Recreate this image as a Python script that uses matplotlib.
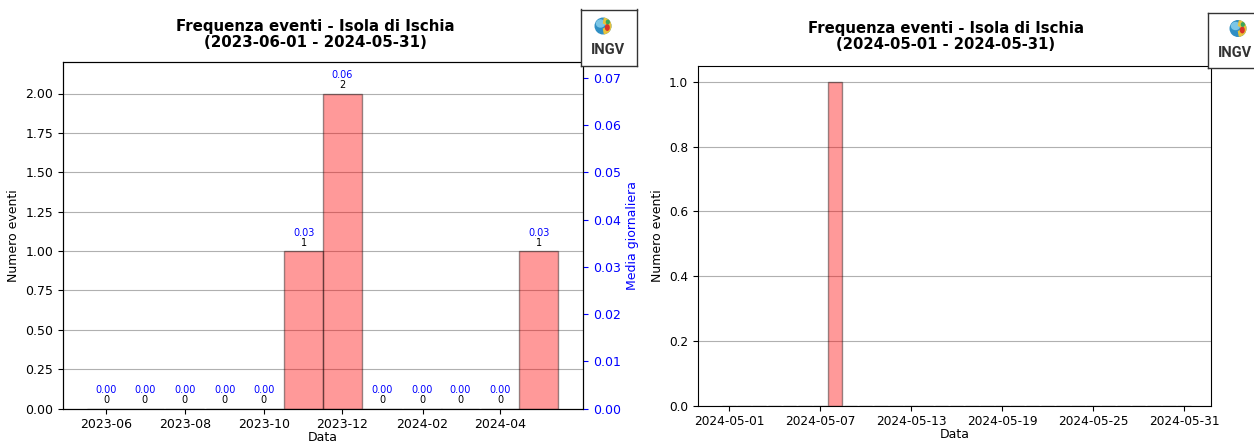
import matplotlib
matplotlib.use("Agg")
import matplotlib.pyplot as plt
import matplotlib.dates as mdates
import matplotlib.ticker as mticker
from matplotlib.patches import Ellipse, Wedge
import numpy as np
import pandas as pd

# ---- data ----
months = pd.date_range("2023-06-01", "2024-05-01", freq="MS")
monthly_counts = [0, 0, 0, 0, 0, 1, 2, 0, 0, 0, 0, 1]
days_in_month = [30, 31, 31, 30, 31, 30, 31, 31, 29, 31, 30, 31]
monthly_avg = [c / d for c, d in zip(monthly_counts, days_in_month)]
month_ticks = pd.to_datetime(["2023-06-01", "2023-08-01", "2023-10-01",
                              "2023-12-01", "2024-02-01", "2024-04-01"])

days = pd.date_range("2024-05-01", "2024-05-31", freq="D")
daily_counts = [0] * 31
daily_counts[7] = 1  # 2024-05-08
day_ticks = days[::6]

title_left = "Frequenza eventi - Isola di Ischia\n(2023-06-01 - 2024-05-31)"
title_right = "Frequenza eventi - Isola di Ischia\n(2024-05-01 - 2024-05-31)"

W, H = 1254, 443
fig = plt.figure(figsize=(W / 100, H / 100), dpi=100)

def rect(x0, y0, x1, y1):
    return [x0 / W, 1 - y1 / H, (x1 - x0) / W, (y1 - y0) / H]

FS = 9

# ---- left panel ----
ax1 = fig.add_axes(rect(63, 62, 583, 408.5))
ax1.bar(months, monthly_counts, width=30, color="red", edgecolor="black", alpha=0.4, zorder=2)
ax1.set_xlim(pd.Timestamp("2023-04-28 16:00"), pd.Timestamp("2024-06-04 05:00"))
ax1.set_ylim(0, max(monthly_counts) * 1.1)
ax1.set_yticks(np.arange(0, 2.01, 0.25))
ax1.yaxis.set_major_formatter(mticker.FormatStrFormatter("%.2f"))
ax1.grid(axis="y", color="#b0b0b0", linewidth=0.8, zorder=0)
ax1.set_axisbelow(True)
ax1.set_ylabel("Numero eventi", fontsize=FS, labelpad=4)
ax1.set_xlabel("Data", fontsize=FS, labelpad=0)
ax1.set_xticks(month_ticks)
ax1.xaxis.set_major_formatter(mdates.DateFormatter("%Y-%m"))
ax1.tick_params(labelsize=FS)
for m, c, a in zip(months, monthly_counts, monthly_avg):
    ax1.annotate(f"{c}", (m, c), xytext=(0, 5.8), textcoords="offset points",
                 ha="center", va="center", fontsize=7, color="black")
    ax1.annotate(f"{a:.2f}", (m, c), xytext=(0, 13), textcoords="offset points",
                 ha="center", va="center", fontsize=7, color="blue")
fig.text(315 / W, 1 - 34.5 / H, title_left, ha="center", va="center",
         fontsize=10.8, fontweight="bold", linespacing=1.12)

ax2 = ax1.twinx()
ax2.set_ylim(0, ax1.get_ylim()[1] / 30)
ax2.set_yticks(np.arange(0, 0.071, 0.01))
ax2.yaxis.set_major_formatter(mticker.FormatStrFormatter("%.2f"))
ax2.tick_params(axis="y", colors="blue", labelsize=FS)
ax2.set_ylabel("Media giornaliera", color="blue", fontsize=FS, labelpad=4)

# ---- right panel ----
ax3 = fig.add_axes(rect(698, 65.7, 1211, 405.7))
ax3.bar(days, daily_counts, width=0.9, color="red", edgecolor="black", alpha=0.4, zorder=2)
ax3.set_xlim(pd.Timestamp("2024-04-28 23:00"), pd.Timestamp("2024-06-01 18:30"))
ax3.set_ylim(0, 1.05)
ax3.grid(axis="y", color="#b0b0b0", linewidth=0.8, zorder=0)
ax3.set_axisbelow(True)
ax3.set_ylabel("Numero eventi", fontsize=FS, labelpad=4)
ax3.set_xlabel("Data", fontsize=FS, labelpad=0)
ax3.set_xticks(day_ticks)
ax3.xaxis.set_major_formatter(mdates.DateFormatter("%Y-%m-%d"))
ax3.tick_params(labelsize=8.7)
fig.text(946 / W, 1 - 36.5 / H, title_right, ha="center", va="center",
         fontsize=10.7, fontweight="bold", linespacing=1.12)

# ---- INGV logos ----
def logo(x0, y0, x1, y1, gx, gy, tx, ty):
    lax = fig.add_axes(rect(x0, y0, x1, y1))
    lax.set_xlim(x0, x1)
    lax.set_ylim(y1, y0)
    lax.set_xticks([])
    lax.set_yticks([])
    lax.set_facecolor("white")
    for s in lax.spines.values():
        s.set_color("#333333")
        s.set_linewidth(1.0)
    r = 7.8
    lax.add_patch(Ellipse((gx, gy), 2 * r, 2 * r, color="#2f8fc4", zorder=1))
    lax.add_patch(Ellipse((gx - 2.5, gy - 2.5), 8, 7, color="#7cc6e6", zorder=2))
    lax.add_patch(Wedge((gx, gy), r, -80, 80, width=4.8, color="#e9c33a", zorder=3))
    lax.add_patch(Ellipse((gx + 4.3, gy + 1.5), 3.6, 5.5, color="#d8332a", zorder=4))
    lax.add_patch(Ellipse((gx + 4.8, gy - 4.0), 2.8, 3.4, color="#3aa65a", zorder=4))
    lax.text(tx, ty, "INGV", ha="center", va="center", fontsize=10.5, fontweight="bold",
             color="#333333", family=["Roboto", "DejaVu Sans"])
    return lax

logo(580.7, 9.5, 636.7, 65.7, 603, 26, 607.5, 50)
logo(1208, 12.7, 1262, 67.7, 1238, 28.5, 1235, 53)

fig.savefig("out.png", dpi=100)
